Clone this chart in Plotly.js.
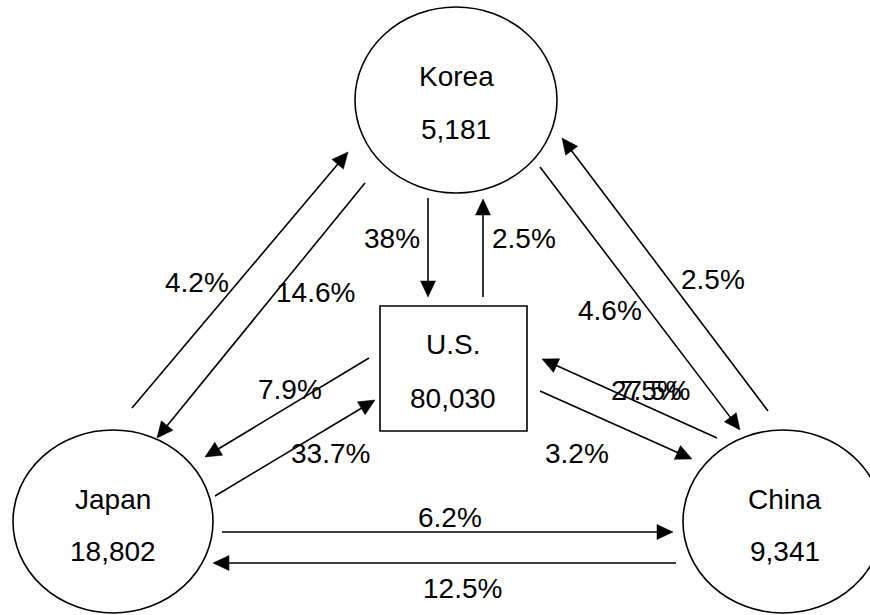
<!DOCTYPE html>
<html><head><meta charset="utf-8">
<script src="https://cdn.plot.ly/plotly-3.0.1.min.js"></script>
<style>html,body{margin:0;padding:0;background:#fff}#chart{width:870px;height:615px}</style>
</head><body><div id="chart"></div>
<script>
// ---------------- data ----------------
const nodeNames  = ['Korea', 'U.S.', 'Japan', 'China'];
const nodeValues = [5181, 80030, 18802, 9341];
const flowFrom = ['Japan','Korea','Korea','U.S.','Korea','China','U.S.','Japan','China','U.S.','Japan','China'];
const flowTo   = ['Korea','Japan','U.S.','Korea','China','Korea','Japan','U.S.','U.S.','China','China','Japan'];
const flowPct  = [4.2, 14.6, 38, 2.5, 4.6, 2.5, 7.9, 33.7, 27.5, 3.2, 6.2, 12.5];
// the source prints a second, overlapping label on the China -> U.S. arrow
const strayLabelText = ['7.5%'];

// ---------------- geometry (layout only, pixel space) ----------------
const nodeGeom = {
  'Korea': {type:'circle', x0:355, x1:557, y0:7,   y1:193, cx:456, ty:[76,129]},
  'U.S.':  {type:'rect',   x0:380, x1:527, y0:306, y1:431, cx:453, ty:[344,398]},
  'Japan': {type:'circle', x0:13,  x1:213, y0:430, y1:613, cx:113, ty:[499,551]},
  'China': {type:'circle', x0:683, x1:883, y0:430, y1:613, cx:785, ty:[499,551]}
};
const arrowGeom = {
  'Japan>Korea': {s:[132,408], t:[348,152], l:[197,282]},
  'Korea>Japan': {s:[365,183], t:[157,438], l:[315,292]},
  'Korea>U.S.':  {s:[428,198], t:[428,297], l:[392,238]},
  'U.S.>Korea':  {s:[483,297], t:[483,199], l:[524,238]},
  'Korea>China': {s:[540,167], t:[740,430], l:[610,310]},
  'China>Korea': {s:[768,411], t:[562,138], l:[713,279]},
  'U.S.>Japan':  {s:[369,358], t:[205,457], l:[290,389]},
  'Japan>U.S.':  {s:[215,496], t:[375,400], l:[330,453]},
  'China>U.S.':  {s:[717,438], t:[542,359], l:[650,390]},
  'U.S.>China':  {s:[540,391], t:[692,459], l:[577,453]},
  'Japan>China': {s:[222,532], t:[673,532], l:[450,517]},
  'China>Japan': {s:[676,563], t:[213,563], l:[462,588]}
};
const strayLabelPos = [[650,390]];

const FONT = {family:'"Liberation Sans", Arial, sans-serif', size:28, color:'#000'};
const LW = 1.6, HEAD_LEN = 16, HEAD_HALF = 7.5;

const shapes = [];
const annotations = [];

nodeNames.forEach((n, i) => {
  const g = nodeGeom[n];
  shapes.push({type:g.type, xref:'x', yref:'y', x0:g.x0, x1:g.x1, y0:g.y0, y1:g.y1,
               line:{color:'#000', width:LW}, fillcolor:'rgba(0,0,0,0)'});
  annotations.push({x:g.cx, y:g.ty[0], xref:'x', yref:'y', text:n, showarrow:false,
                    xanchor:'center', yanchor:'middle', font:FONT});
  annotations.push({x:g.cx, y:g.ty[1], xref:'x', yref:'y', text:nodeValues[i].toLocaleString('en-US'),
                    showarrow:false, xanchor:'center', yanchor:'middle', font:FONT});
});

flowPct.forEach((p, i) => {
  const g = arrowGeom[flowFrom[i] + '>' + flowTo[i]];
  const [sx, sy] = g.s, [tx, ty] = g.t;
  const dx = tx - sx, dy = ty - sy, L = Math.hypot(dx, dy);
  const ux = dx / L, uy = dy / L, px = -uy, py = ux;
  const bx = tx - ux * HEAD_LEN, by = ty - uy * HEAD_LEN;
  shapes.push({type:'line', xref:'x', yref:'y', x0:sx, y0:sy, x1:bx + ux*2, y1:by + uy*2,
               line:{color:'#000', width:LW}});
  shapes.push({type:'path', xref:'x', yref:'y',
               path:`M${tx},${ty} L${bx + px*HEAD_HALF},${by + py*HEAD_HALF} L${bx - px*HEAD_HALF},${by - py*HEAD_HALF} Z`,
               fillcolor:'#000', line:{color:'#000', width:0.5}});
  annotations.push({x:g.l[0], y:g.l[1], xref:'x', yref:'y', text:p + '%', showarrow:false,
                    xanchor:'center', yanchor:'middle', font:FONT});
});

strayLabelText.forEach((t, i) => {
  annotations.push({x:strayLabelPos[i][0], y:strayLabelPos[i][1], xref:'x', yref:'y', text:t,
                    showarrow:false, xanchor:'center', yanchor:'middle', font:FONT});
});

const layout = {
  width:870, height:615,
  margin:{l:0, r:0, t:0, b:0},
  paper_bgcolor:'#fff', plot_bgcolor:'#fff',
  xaxis:{range:[0,870], visible:false, fixedrange:true},
  yaxis:{range:[615,0], visible:false, fixedrange:true},
  showlegend:false,
  shapes:shapes,
  annotations:annotations
};

Plotly.newPlot('chart', [], layout, {staticPlot:true, displayModeBar:false});
</script>
</body></html>
